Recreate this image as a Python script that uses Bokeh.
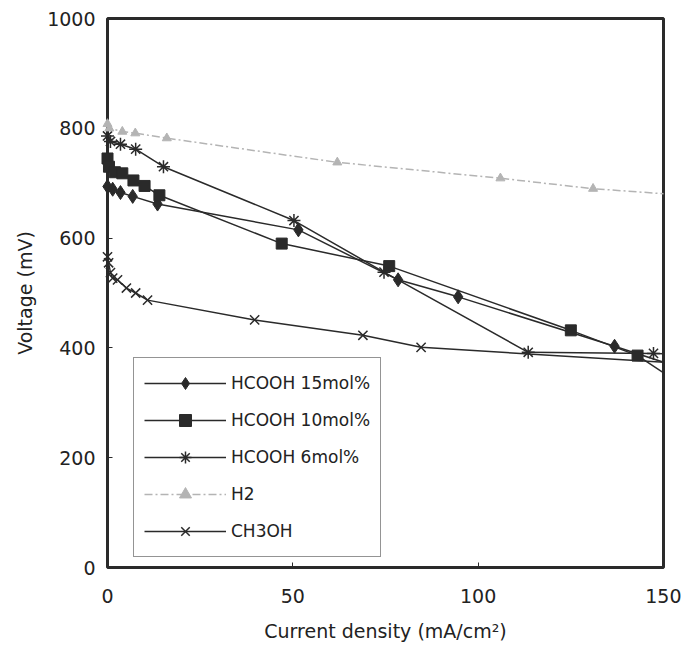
from bokeh.plotting import figure
from bokeh.models import Range1d, FixedTicker
from bokeh.embed import file_html
from bokeh.resources import INLINE

# Current density (mA/cm2) and voltage (mV)
x15 = [0, 1.4, 3.5, 6.8, 13.5, 51.5, 78.4, 94.6, 136.8, 160]
y15 = [694, 689, 683, 676, 662, 615, 524, 493, 403, 352]

x10 = [0, 0.4, 2, 4, 7, 10, 14, 47, 76, 125, 143, 160]
y10 = [745, 730, 720, 718, 705, 695, 678, 590, 549, 432, 386, 310]

x6 = [0, 0.8, 3.5, 7.6, 15.1, 50.3, 74.6, 113.5, 147.3, 160]
y6 = [786, 776, 771, 762, 730, 632, 538, 392, 390, 388]

xh2 = [0, 0.5, 4, 7.5, 16, 62, 106, 131, 160]
yh2 = [808, 800, 794, 791, 782, 738, 709, 690, 676]

xme = [0, 0.3, 0.8, 1.4, 2.7, 5.1, 7.6, 10.8, 39.7, 68.9, 84.6, 160]
yme = [566, 555, 537, 527, 524, 509, 500, 487, 451, 423, 401, 370]

x_ticks = [0, 50, 100, 150]
y_ticks = [0, 200, 400, 600, 800, 1000]

FONT = "DejaVu Sans"
DARK = "#2a2a2a"
GRAY = "#b4b4b4"

p = figure(width=681, height=645, output_backend="svg", toolbar_location=None,
           x_range=Range1d(0, 150), y_range=Range1d(0, 1000),
           min_border_left=107, min_border_right=18, min_border_top=18,
           min_border_bottom=78)

p.xgrid.visible = False
p.ygrid.visible = False
p.outline_line_color = DARK
p.outline_line_width = 3
p.background_fill_color = "white"
p.border_fill_color = "white"

p.xaxis.ticker = FixedTicker(ticks=x_ticks)
p.yaxis.ticker = FixedTicker(ticks=y_ticks)
for ax in (p.xaxis[0], p.yaxis[0]):
    ax.axis_line_color = None
    ax.major_tick_in = 5
    ax.major_tick_out = 0
    ax.major_tick_line_color = DARK
    ax.minor_tick_line_color = None
    ax.major_label_text_font = FONT
    ax.major_label_text_font_size = "19px"
    ax.major_label_text_color = "#222222"
    ax.axis_label_text_font = FONT
    ax.axis_label_text_font_size = "19px"
    ax.axis_label_text_font_style = "normal"
    ax.axis_label_text_color = "#222222"

p.xaxis.axis_label = "Current density (mA/cm²)"
p.yaxis.axis_label = "Voltage (mV)"
p.xaxis.major_label_standoff = 21
p.xaxis.axis_label_standoff = 14
p.yaxis.major_label_standoff = 12
p.yaxis.axis_label_standoff = 8

# HCOOH 15mol%
p.line(x15, y15, line_color=DARK, line_width=1.5, legend_label="HCOOH 15mol%")
p.scatter(x15, y15, marker="diamond", size=14, fill_color=DARK, line_color=DARK,
          legend_label="HCOOH 15mol%", level="overlay")
# HCOOH 10mol%
p.line(x10, y10, line_color=DARK, line_width=1.5, legend_label="HCOOH 10mol%")
p.scatter(x10, y10, marker="square", size=11, fill_color=DARK, line_color=DARK,
          legend_label="HCOOH 10mol%", level="overlay")
# HCOOH 6mol%
p.line(x6, y6, line_color=DARK, line_width=1.5, legend_label="HCOOH 6mol%")
p.scatter(x6, y6, marker="asterisk", size=13, line_color=DARK, line_width=1.5,
          legend_label="HCOOH 6mol%", level="overlay")
# H2
p.line(xh2, yh2, line_color=GRAY, line_width=1.5, line_dash="8 3 2 3", legend_label="H2")
p.scatter(xh2, yh2, marker="triangle", size=9, fill_color=GRAY, line_color=GRAY,
          legend_label="H2", level="overlay")
# CH3OH
p.line(xme, yme, line_color=DARK, line_width=1.5, legend_label="CH3OH")
p.scatter(xme, yme, marker="x", size=13, line_color=DARK, line_width=1.5,
          legend_label="CH3OH", level="overlay")

lg = p.legend[0]
lg.location = (26, 10)
lg.border_line_color = DARK
lg.border_line_width = 1.5
lg.background_fill_color = "white"
lg.background_fill_alpha = 1.0
lg.label_text_font = FONT
lg.label_text_font_size = "17px"
lg.label_text_color = "#222222"
lg.glyph_width = 82
lg.glyph_height = 30
lg.label_height = 30
lg.spacing = 7
lg.padding = 10
lg.margin = 0
lg.label_standoff = 5

open("out.html", "w").write(file_html(p, INLINE))
